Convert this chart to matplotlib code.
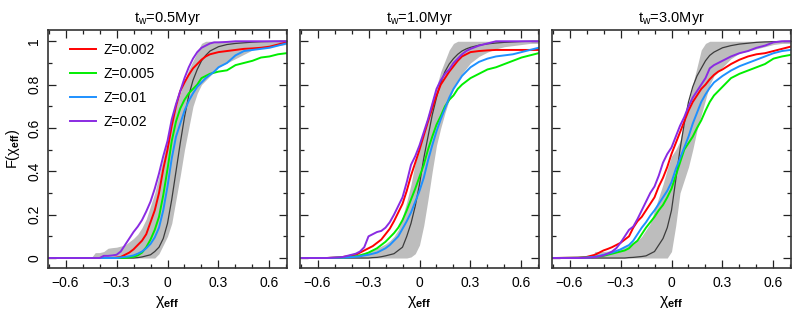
import numpy as np
import matplotlib.pyplot as plt
from matplotlib.ticker import MultipleLocator, FuncFormatter

plt.rcParams['font.family'] = ['Liberation Sans', 'DejaVu Sans']
plt.rcParams['mathtext.fontset'] = 'custom'
plt.rcParams['mathtext.rm'] = 'Liberation Sans'
plt.rcParams['mathtext.it'] = 'Liberation Sans:italic'
plt.rcParams['mathtext.bf'] = 'Liberation Sans:bold'

chi = [-0.70, -0.55, -0.50, -0.475, -0.45, -0.425, -0.40, -0.375, -0.35, -0.325,
       -0.30, -0.275, -0.25, -0.225, -0.20, -0.175, -0.15, -0.125, -0.10, -0.075,
       -0.05, -0.025, 0.0, 0.025, 0.05, 0.075, 0.10, 0.125, 0.15, 0.175,
       0.20, 0.225, 0.25, 0.275, 0.30, 0.35, 0.40, 0.45, 0.50, 0.55,
       0.60, 0.65, 0.70]

titles = ['0.5', '1.0', '3.0']
z_labels = ['Z=0.002', 'Z=0.005', 'Z=0.01', 'Z=0.02']

# ---- t_w = 0.5 Myr
p1_z002 = [0, 0, 0, 0, 0, 0, 0, 0, 0, 0,
           0.002, 0.005, 0.015, 0.025, 0.04, 0.06, 0.08, 0.11, 0.165, 0.22,
           0.30, 0.41, 0.50, 0.61, 0.70, 0.77, 0.81, 0.845, 0.875, 0.895,
           0.915, 0.93, 0.94, 0.945, 0.95, 0.955, 0.96, 0.965, 0.967, 0.97,
           0.975, 0.985, 0.995]
p1_z005 = [0, 0, 0, 0, 0, 0, 0, 0, 0, 0,
           0, 0, 0, 0.003, 0.006, 0.012, 0.025, 0.05, 0.085, 0.13,
           0.19, 0.29, 0.41, 0.54, 0.63, 0.69, 0.73, 0.76, 0.78, 0.80,
           0.83, 0.84, 0.85, 0.855, 0.86, 0.866, 0.89, 0.90, 0.91, 0.925,
           0.93, 0.94, 0.945]
p1_z01 = [0, 0, 0, 0, 0, 0, 0, 0, 0, 0,
          0, 0.003, 0.005, 0.008, 0.012, 0.02, 0.03, 0.045, 0.065, 0.095,
          0.14, 0.22, 0.33, 0.46, 0.56, 0.62, 0.68, 0.725, 0.76, 0.79,
          0.81, 0.83, 0.845, 0.86, 0.88, 0.90, 0.935, 0.955, 0.96, 0.965,
          0.97, 0.98, 0.99]
p1_z02 = [0, 0, 0, 0, 0, 0, 0, 0.01, 0.01, 0.012,
          0.015, 0.03, 0.06, 0.09, 0.12, 0.145, 0.175, 0.215, 0.26, 0.32,
          0.39, 0.47, 0.54, 0.64, 0.71, 0.77, 0.83, 0.88, 0.92, 0.95,
          0.97, 0.98, 0.99, 0.995, 0.995, 0.997, 1.0, 1.0, 1.0, 1.0,
          1.0, 1.0, 1.0]
p1_model = [0, 0, 0, 0, 0, 0, 0, 0, 0, 0,
            0, 0, 0, 0, 0, 0.002, 0.005, 0.01, 0.015, 0.03,
            0.05, 0.09, 0.16, 0.27, 0.40, 0.53, 0.65, 0.75, 0.82, 0.87,
            0.91, 0.935, 0.955, 0.965, 0.975, 0.985, 0.99, 0.993, 0.996, 0.998,
            0.999, 1.0, 1.0]
p1_band_hi = [0, 0, 0, 0, 0, 0.025, 0.025, 0.03, 0.045, 0.048,
              0.05, 0.055, 0.06, 0.075, 0.09, 0.11, 0.14, 0.18, 0.24, 0.30,
              0.38, 0.46, 0.55, 0.63, 0.70, 0.76, 0.82, 0.87, 0.91, 0.95,
              0.99, 1.0, 1.0, 1.0, 1.0, 1.0, 1.0, 1.0, 1.0, 1.0,
              1.0, 1.0, 1.0]
p1_band_lo = [0, 0, 0, 0, 0, 0, 0, 0, 0, 0,
              0, 0, 0, 0, 0, 0, 0, 0, 0, 0,
              0.02, 0.06, 0.10, 0.16, 0.27, 0.38, 0.50, 0.60, 0.70, 0.76,
              0.80, 0.82, 0.84, 0.86, 0.88, 0.90, 0.92, 0.94, 0.96, 0.97,
              0.975, 0.98, 0.985]

# ---- t_w = 1.0 Myr
p2_z002 = [0, 0, 0.002, 0.003, 0.005, 0.008, 0.012, 0.015, 0.025, 0.035,
           0.045, 0.055, 0.07, 0.085, 0.11, 0.135, 0.17, 0.21, 0.25, 0.31,
           0.38, 0.44, 0.50, 0.565, 0.63, 0.69, 0.75, 0.80, 0.83, 0.86,
           0.885, 0.91, 0.93, 0.94, 0.95, 0.955, 0.958, 0.96, 0.96, 0.96,
           0.96, 0.96, 0.96]
p2_z005 = [0, 0, 0.001, 0.002, 0.003, 0.004, 0.005, 0.008, 0.012, 0.018,
           0.025, 0.035, 0.045, 0.06, 0.075, 0.095, 0.115, 0.14, 0.175, 0.22,
           0.27, 0.32, 0.375, 0.43, 0.50, 0.56, 0.615, 0.655, 0.70, 0.73,
           0.75, 0.78, 0.80, 0.815, 0.83, 0.85, 0.87, 0.88, 0.895, 0.91,
           0.925, 0.935, 0.945]
p2_z01 = [0, 0, 0.001, 0.002, 0.002, 0.003, 0.004, 0.006, 0.008, 0.012,
          0.015, 0.02, 0.025, 0.035, 0.045, 0.06, 0.08, 0.10, 0.135, 0.17,
          0.21, 0.26, 0.31, 0.37, 0.45, 0.52, 0.585, 0.64, 0.69, 0.74,
          0.78, 0.81, 0.84, 0.86, 0.88, 0.905, 0.92, 0.93, 0.935, 0.94,
          0.95, 0.96, 0.97]
p2_z02 = [0, 0, 0.002, 0.003, 0.005, 0.01, 0.015, 0.02, 0.03, 0.05,
          0.10, 0.11, 0.12, 0.125, 0.14, 0.165, 0.20, 0.24, 0.28, 0.35,
          0.43, 0.47, 0.52, 0.58, 0.64, 0.71, 0.78, 0.82, 0.85, 0.87,
          0.90, 0.92, 0.94, 0.955, 0.965, 0.98, 0.99, 1.0, 1.0, 1.0,
          1.0, 1.0, 1.0]
p2_model = [0, 0, 0, 0, 0, 0, 0, 0, 0, 0,
            0, 0.002, 0.003, 0.006, 0.01, 0.015, 0.02, 0.035, 0.05, 0.10,
            0.16, 0.24, 0.34, 0.46, 0.56, 0.66, 0.74, 0.81, 0.86, 0.895,
            0.92, 0.94, 0.955, 0.965, 0.972, 0.982, 0.988, 0.992, 0.995, 0.997,
            0.999, 1.0, 1.0]
p2_band_hi = [0, 0, 0, 0, 0, 0.01, 0.015, 0.018, 0.02, 0.025,
              0.03, 0.037, 0.045, 0.055, 0.065, 0.08, 0.10, 0.13, 0.19, 0.26,
              0.34, 0.44, 0.52, 0.59, 0.66, 0.73, 0.79, 0.86, 0.91, 0.96,
              0.99, 1.0, 1.0, 1.0, 1.0, 1.0, 1.0, 1.0, 1.0, 1.0,
              1.0, 1.0, 1.0]
p2_band_lo = [0, 0, 0, 0, 0, 0, 0, 0, 0, 0,
              0, 0, 0, 0, 0, 0, 0, 0, 0, 0,
              0.005, 0.02, 0.06, 0.15, 0.27, 0.40, 0.52, 0.60, 0.67, 0.73,
              0.78, 0.82, 0.85, 0.875, 0.90, 0.93, 0.95, 0.965, 0.975, 0.98,
              0.985, 0.99, 0.99]

# ---- t_w = 3.0 Myr
p3_z002 = [0, 0.002, 0.005, 0.01, 0.015, 0.025, 0.035, 0.042, 0.05, 0.06,
           0.07, 0.085, 0.10, 0.14, 0.17, 0.19, 0.22, 0.25, 0.28, 0.33,
           0.37, 0.42, 0.48, 0.53, 0.58, 0.63, 0.68, 0.72, 0.75, 0.78,
           0.80, 0.825, 0.845, 0.86, 0.87, 0.895, 0.915, 0.93, 0.94, 0.945,
           0.955, 0.965, 0.975]
p3_z005 = [0, 0.001, 0.002, 0.003, 0.005, 0.007, 0.01, 0.015, 0.02, 0.025,
           0.03, 0.035, 0.045, 0.065, 0.08, 0.11, 0.14, 0.165, 0.19, 0.22,
           0.245, 0.28, 0.32, 0.38, 0.44, 0.50, 0.53, 0.56, 0.60, 0.635,
           0.68, 0.72, 0.75, 0.77, 0.79, 0.83, 0.85, 0.865, 0.88, 0.895,
           0.92, 0.93, 0.937]
p3_z01 = [0, 0.001, 0.002, 0.004, 0.006, 0.01, 0.015, 0.02, 0.025, 0.032,
          0.04, 0.05, 0.06, 0.08, 0.11, 0.14, 0.165, 0.195, 0.22, 0.25,
          0.28, 0.31, 0.35, 0.41, 0.46, 0.51, 0.56, 0.62, 0.67, 0.72,
          0.755, 0.785, 0.81, 0.825, 0.84, 0.865, 0.885, 0.90, 0.915, 0.93,
          0.945, 0.955, 0.96]
p3_z02 = [0, 0, 0.001, 0.002, 0.004, 0.008, 0.012, 0.02, 0.03, 0.045,
          0.07, 0.10, 0.13, 0.145, 0.18, 0.22, 0.26, 0.30, 0.33, 0.38,
          0.44, 0.48, 0.51, 0.56, 0.61, 0.65, 0.70, 0.74, 0.77, 0.80,
          0.83, 0.875, 0.89, 0.90, 0.91, 0.93, 0.945, 0.955, 0.97, 0.98,
          0.995, 1.0, 1.0]
p3_model = [0, 0, 0, 0, 0, 0, 0, 0, 0, 0,
            0, 0, 0.002, 0.003, 0.005, 0.007, 0.01, 0.02, 0.03, 0.06,
            0.09, 0.14, 0.22, 0.36, 0.50, 0.62, 0.72, 0.79, 0.84, 0.875,
            0.91, 0.935, 0.95, 0.96, 0.97, 0.98, 0.987, 0.991, 0.995, 0.997,
            0.998, 0.999, 1.0]
p3_band_hi = [0, 0, 0, 0, 0.03, 0.03, 0.03, 0.032, 0.035, 0.04,
              0.045, 0.05, 0.06, 0.07, 0.08, 0.10, 0.13, 0.16, 0.22, 0.28,
              0.34, 0.41, 0.47, 0.50, 0.54, 0.63, 0.71, 0.80, 0.88, 0.96,
              0.99, 1.0, 1.0, 1.0, 1.0, 1.0, 1.0, 1.0, 1.0, 1.0,
              1.0, 1.0, 1.0]
p3_band_lo = [0, 0, 0, 0, 0, 0, 0, 0, 0, 0,
              0, 0, 0, 0, 0, 0, 0, 0, 0, 0,
              0, 0, 0.03, 0.15, 0.30, 0.36, 0.42, 0.50, 0.59, 0.66,
              0.73, 0.80, 0.84, 0.86, 0.88, 0.92, 0.945, 0.955, 0.965, 0.975,
              0.985, 0.99, 0.99]

panels = [
    (p1_z002, p1_z005, p1_z01, p1_z02, p1_model, p1_band_lo, p1_band_hi),
    (p2_z002, p2_z005, p2_z01, p2_z02, p2_model, p2_band_lo, p2_band_hi),
    (p3_z002, p3_z005, p3_z01, p3_z02, p3_model, p3_band_lo, p3_band_hi),
]

colors = ['#ff0000', '#00ee00', '#1e90ff', '#8a2be2']


def tick_fmt(v, pos):
    return ('%g' % round(v, 3)).replace('-', '\u2212')


fig = plt.figure(figsize=(7.97, 3.17), dpi=100)
lefts = [48 / 797, 300 / 797, 552 / 797]

for i, (z002, z005, z01, z02, model, lo, hi) in enumerate(panels):
    ax = fig.add_axes([lefts[i], 49 / 317, 239 / 797, 238 / 317])
    ax.fill_between(chi, lo, hi, color='#bdbdbd', lw=0)
    ax.plot(chi, model, color='#3c3c3c', lw=0.9)
    for ser, col, lab in zip([z002, z005, z01, z02], colors, z_labels):
        ax.plot(chi, ser, color=col, lw=1.4, label=lab)

    ax.set_xlim(-0.703, 0.703)
    ax.set_ylim(-0.046, 1.052)
    ax.xaxis.set_major_locator(MultipleLocator(0.3))
    ax.xaxis.set_minor_locator(MultipleLocator(0.1))
    ax.yaxis.set_major_locator(MultipleLocator(0.2))
    ax.yaxis.set_minor_locator(MultipleLocator(0.1))
    ax.xaxis.set_major_formatter(FuncFormatter(tick_fmt))
    ax.yaxis.set_major_formatter(FuncFormatter(tick_fmt))
    ax.tick_params(which='both', direction='in', top=True, right=True,
                   labelsize=10, width=0.9, color='#222222')
    ax.tick_params(which='major', length=6)
    ax.tick_params(which='minor', length=3)
    ax.tick_params(axis='x', pad=6)
    for sp in ax.spines.values():
        sp.set_linewidth(1.2)
        sp.set_color('#333333')

    ax.set_title(r'$\mathregular{t_w}$=' + titles[i] + 'Myr', fontsize=10.5, pad=6)
    ax.set_xlabel(r'$\mathregular{\chi_{\mathbf{eff}}}$', fontsize=11.5, labelpad=3)

    if i == 0:
        plt.setp(ax.get_yticklabels(), rotation=90, va='center')
        ax.tick_params(axis='y', pad=5)
        ax.set_ylabel(r'F($\mathregular{\chi_{\mathbf{eff}}}$)', fontsize=10.5, labelpad=4)
        ax.legend(loc='upper left', bbox_to_anchor=(0.092, 0.945), frameon=False,
                  fontsize=10, handlelength=1.9, handletextpad=0.5,
                  labelspacing=0.72, borderpad=0, borderaxespad=0)
    else:
        ax.tick_params(axis='y', labelleft=False)

fig.savefig('out.png', dpi=100)
